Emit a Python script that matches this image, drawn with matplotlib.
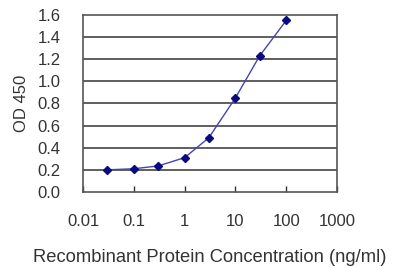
import matplotlib
matplotlib.use("Agg")
import matplotlib.pyplot as plt

conc = [0.03, 0.1, 0.3, 1, 3, 10, 30, 100]
od = [0.20, 0.21, 0.235, 0.31, 0.49, 0.85, 1.23, 1.55]
xticks = [0.01, 0.1, 1, 10, 100, 1000]
xtick_labels = ["0.01", "0.1", "1", "10", "100", "1000"]
yticks = [0.0, 0.2, 0.4, 0.6, 0.8, 1.0, 1.2, 1.4, 1.6]

plt.rcParams['font.family'] = ['Liberation Sans', 'DejaVu Sans']
txt = "#333333"

fig = plt.figure(figsize=(4, 2.67), dpi=100)
ax = fig.add_axes([0.2075, 0.281, 0.635, 0.663])

for v in yticks[1:-1]:
    ax.axhline(v, color="#333333", lw=1.1, zorder=1)

ax.plot(conc, od, color="#4545b0", lw=1.0, zorder=2)
ax.plot(conc, od, ls="none", marker="D", ms=4.5, color="#0a0a80", zorder=3)

ax.set_xscale("log")
ax.set_xlim(0.01, 1000)
ax.set_ylim(0, 1.6)
ax.set_xticks(xticks)
ax.set_xticklabels(xtick_labels)
ax.minorticks_off()
ax.set_yticks(yticks)
ax.set_yticklabels([f"{v:.1f}" for v in yticks])

ax.tick_params(axis="x", direction="in", length=4, width=1, color="#333333",
               pad=16, labelsize=12, labelcolor=txt)
ax.tick_params(axis="y", length=0, pad=16, labelsize=12, labelcolor=txt)

for s in ax.spines.values():
    s.set_color("#555555")
    s.set_linewidth(1.2)

ax.set_ylabel("OD 450", fontsize=12, color=txt, labelpad=6)
ax.set_xlabel("Recombinant Protein Concentration (ng/ml)", fontsize=13.2,
              color=txt, labelpad=14)

fig.savefig("out.png", dpi=100)
